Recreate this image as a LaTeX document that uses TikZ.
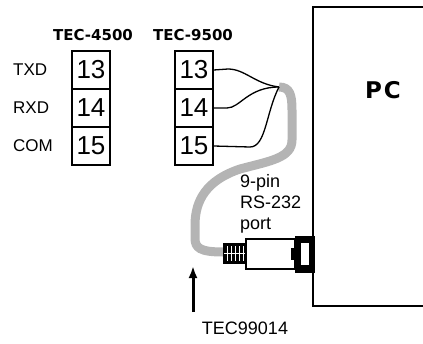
\documentclass[tikz,border=0pt]{standalone}
\usepackage{fontspec}
\setmainfont{Liberation Sans}
\newfontfamily\headfont{DejaVu Sans}
\usetikzlibrary{arrows.meta}
\definecolor{cablegray}{HTML}{B4B4B4}
\tikzset{
  pin/.style={draw,line width=1.4pt,minimum width=38pt,minimum height=38pt,
    inner sep=0pt,font=\fontsize{26}{26}\selectfont},
  sig/.style={anchor=west,inner sep=0pt,font=\fontsize{17}{17}\selectfont},
  head/.style={inner sep=0pt,font=\headfont\bfseries\fontsize{15}{15}\selectfont},
  label/.style={inner sep=0pt,font=\fontsize{18}{21}\selectfont},
  wire/.style={line width=1.3pt},
  cable/.style={line width=9pt,draw=cablegray},
}
\begin{document}
\begin{tikzpicture}[x=1pt,y=-1pt]
  \useasboundingbox (0,0) rectangle (423,343);
  \node[head] (h4500) at (93,35) {TEC-4500};
  \node[head] (h9500) at (193,35) {TEC-9500};
  \foreach \n/\s/\y in {13/TXD/70,14/RXD/108,15/COM/146}{
    \node[sig] (s\n) at (13,\y) {\s};
    \node[pin] (a\n) at (91,\y) {\n};
    \node[pin] (b\n) at (194,\y) {\n};
  }
  % PC
  \draw[line width=1.5pt] (426,7) -- (313,7) -- (313,306) -- (426,306);
  \node[head,font=\headfont\bfseries\fontsize{23}{23}\selectfont] (pc) at (383,90) {P\kern2pt C};
  % cable
  \coordinate (top) at (279,87);
  \coordinate (ferrule) at (223,252);
  \draw[cable] (top) .. controls (290,87) and (292,95) .. (292,110)
    -- (292,140) .. controls (292,158) and (270,161) .. (240,169)
    .. controls (207,180) and (195,200) .. (195,225) -- (195,238)
    .. controls (195,248) and (200,252) .. (ferrule);
  \draw[wire] (b13.east) -- (228,69) .. controls (245,69) and (255,84) .. (top);
  \draw[wire] (b14.east) -- (227,108) .. controls (240,108) and (248,87) .. (top);
  \draw[wire] (b15.east) -- (250,147) .. controls (266,147) and (266,112) .. (top);
  % plug
  \fill (223,243) rectangle (246,264);
  \foreach \x in {227,231,235,239,243}
    \draw[white,line width=1pt] (\x,246) -- (\x,261);
  \draw[white,line width=1pt] (224,253.5) -- (245,253.5);
  \draw[line width=1.5pt,fill=white] (246,239) rectangle (295,269);
  \fill (295,236) rectangle (315,273);
  \fill (291,248) rectangle (295,260);
  \fill[white] (301,243) rectangle (309,265);
  \node[label,anchor=north west,align=left] (port) at (240,174) {9-pin\\RS-232\\port};
  % part number
  \node[label] (part) at (245,328) {TEC99014};
  \coordinate (arrowfoot) at (193,312);
  \draw[line width=3pt,-{Latex[length=12pt,width=9pt]}] (arrowfoot) -- (193,266);
\end{tikzpicture}
\end{document}
